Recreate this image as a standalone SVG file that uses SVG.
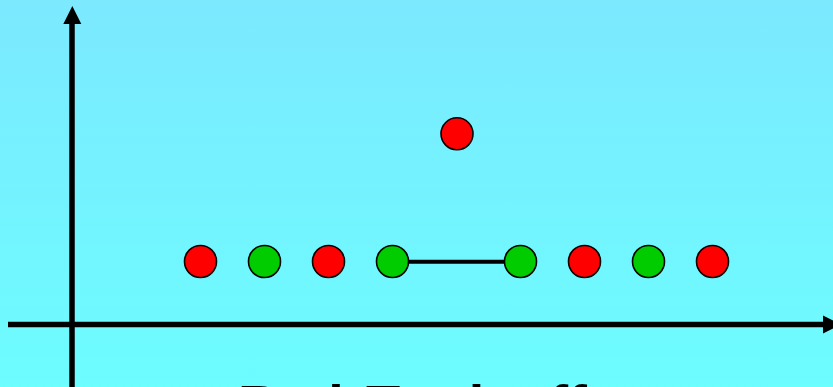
<svg xmlns="http://www.w3.org/2000/svg" width="833" height="387" viewBox="0 0 833 387">
  <defs>
    <linearGradient id="bg" x1="0" y1="0" x2="0" y2="1">
      <stop offset="0" stop-color="#7CE9FF"/>
      <stop offset="1" stop-color="#6CFDFF"/>
    </linearGradient>
  </defs>
  <style>
    .red { fill: #FF0000; stroke: #000; stroke-width: 1.6; }
    .green { fill: #00CC00; stroke: #000; stroke-width: 1.6; }
    .axis { stroke: #000; stroke-width: 5.5; fill: none; }
    .head { fill: #000; }
    .edge { stroke: #000; stroke-width: 4; fill: none; }
    .title { font-family: "Liberation Sans", Arial, sans-serif; font-weight: bold; font-size: 56px; fill: #000; }
  </style>
  <rect x="0" y="0" width="833" height="387" fill="url(#bg)"/>
  <g id="axes">
    <line class="axis" x1="72" y1="387" x2="72" y2="22"/>
    <polygon class="head" points="72.3,6 81.3,24 63.3,24"/>
    <line class="axis" x1="8" y1="324.5" x2="825" y2="324.5"/>
    <polygon class="head" points="841,324.5 823,315.5 823,333.5"/>
  </g>
  <g id="connectors">
    <line class="edge" x1="392.5" y1="261.8" x2="520.5" y2="261.8"/>
  </g>
  <g id="p1"><circle class="red" cx="200.5" cy="261.5" r="16"/></g>
  <g id="p2"><circle class="green" cx="264.5" cy="261.5" r="16"/></g>
  <g id="p3"><circle class="red" cx="328.5" cy="261.5" r="16"/></g>
  <g id="p4"><circle class="green" cx="392.5" cy="261.5" r="16"/></g>
  <g id="p5"><circle class="red" cx="457" cy="133.8" r="16"/></g>
  <g id="p6"><circle class="green" cx="520.5" cy="261.5" r="16"/></g>
  <g id="p7"><circle class="red" cx="584.5" cy="261.5" r="16"/></g>
  <g id="p8"><circle class="green" cx="648.5" cy="261.5" r="16"/></g>
  <g id="p9"><circle class="red" cx="712.5" cy="261.5" r="16"/></g>
  <g id="caption">
    <text class="title" x="238" y="424">Bad<tspan x="366">Tradeoff</tspan></text>
  </g>
</svg>
